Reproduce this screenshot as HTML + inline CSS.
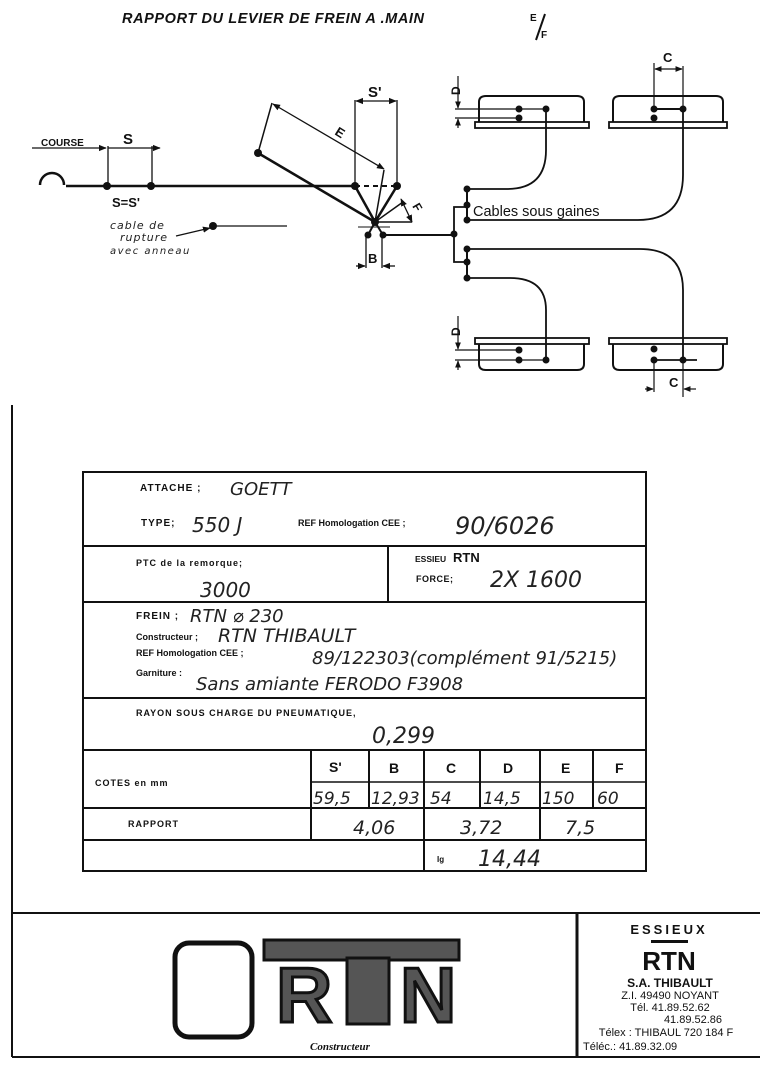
<!DOCTYPE html>
<html><head><meta charset="utf-8"><style>
html,body{margin:0;padding:0;background:#fff;}
svg{display:block}
.b{font-family:"Liberation Sans",sans-serif;font-weight:bold;fill:#111}
.h{font-family:"DejaVu Sans","Liberation Sans",sans-serif;font-style:italic;font-weight:200;fill:#222}
.n{font-family:"Liberation Sans",sans-serif;fill:#111}
</style></head><body>
<svg width="760" height="1080" viewBox="0 0 760 1080" xmlns="http://www.w3.org/2000/svg">
<defs>
<marker id="a" viewBox="0 0 10 10" refX="9" refY="5" markerWidth="6" markerHeight="6" orient="auto-start-reverse"><path d="M0,1 L10,5 L0,9 z" fill="#111"/></marker>
</defs>
<text x="122" y="23" class="b" font-size="14.5" letter-spacing="0.6" font-style="italic">RAPPORT DU LEVIER DE FREIN A .MAIN</text>
<text x="530" y="21" class="b" font-size="10">E</text>
<line x1="545" y1="14" x2="536" y2="40" stroke="#111" stroke-width="2"/>
<text x="541" y="38" class="b" font-size="10">F</text>

<g stroke="#111" fill="none" stroke-width="2">
<path d="M40,185 A12,12 0 0 1 64,185" stroke-width="2.5"/>
<line x1="66" y1="186" x2="355" y2="186" stroke-width="2.5"/>
<line x1="355" y1="186" x2="397" y2="186" stroke-dasharray="5,4"/>
<line x1="32" y1="148" x2="106" y2="148" stroke-width="1.3" marker-end="url(#a)"/>
<line x1="108" y1="148" x2="160" y2="148" stroke-width="1.3" marker-end="url(#a)"/>
<line x1="108" y1="146" x2="108" y2="186" stroke-width="1.3"/>
<line x1="152" y1="146" x2="152" y2="186" stroke-width="1.3"/>
<line x1="258" y1="153" x2="375" y2="222" stroke-width="2.5"/>
<line x1="258" y1="153" x2="272" y2="103" stroke-width="1.5"/>
<line x1="273" y1="104" x2="384" y2="169" stroke-width="1.3" marker-start="url(#a)" marker-end="url(#a)"/>
<line x1="384" y1="170" x2="375" y2="222" stroke-width="1.5"/>
<line x1="355" y1="186" x2="375" y2="222" stroke-width="2.5"/>
<line x1="397" y1="186" x2="375" y2="222" stroke-width="2.5"/>
<line x1="375" y1="222" x2="403" y2="202" stroke-width="1.5"/>
<line x1="375" y1="222" x2="412" y2="222" stroke-width="1.5"/>
<line x1="401" y1="199" x2="412" y2="222" stroke-width="1.3" marker-start="url(#a)" marker-end="url(#a)"/>
<line x1="355" y1="100" x2="355" y2="186" stroke-width="1.3"/>
<line x1="397" y1="100" x2="397" y2="186" stroke-width="1.3"/>
<line x1="356" y1="101" x2="396" y2="101" stroke-width="1.3" marker-start="url(#a)" marker-end="url(#a)"/>
<line x1="375" y1="222" x2="368" y2="235" stroke-width="2"/>
<line x1="375" y1="222" x2="383" y2="235" stroke-width="2"/>
<line x1="358" y1="227" x2="390" y2="227" stroke-width="1"/>
<line x1="366" y1="235" x2="366" y2="268" stroke-width="1.3"/>
<line x1="382" y1="235" x2="382" y2="268" stroke-width="1.3"/>
<line x1="356" y1="266" x2="365" y2="266" stroke-width="1.3" marker-end="url(#a)"/>
<line x1="395" y1="266" x2="383" y2="266" stroke-width="1.3" marker-end="url(#a)"/>
<line x1="383" y1="235" x2="456" y2="235" stroke-width="2"/>
<line x1="213" y1="226" x2="287" y2="226" stroke-width="1.3"/>
<line x1="176" y1="236" x2="210" y2="228" stroke-width="1.3" marker-end="url(#a)"/>
<path d="M467,207 L454,207 L454,262 L467,262" stroke-width="1.8"/>
<line x1="467" y1="189" x2="467" y2="220" stroke-width="2"/>
<line x1="467" y1="249" x2="467" y2="278" stroke-width="2"/>
<path d="M546,109 L546,150 Q546,189 507,189 L467,189" stroke-width="1.8"/>
<path d="M683,109 L683,175 Q683,220 638,220 L467,220" stroke-width="1.8"/>
<path d="M683,360 L683,290 Q683,249 640,249 L467,249" stroke-width="1.8"/>
<path d="M546,360 L546,310 Q546,278 510,278 L467,278" stroke-width="1.8"/>
<path d="M479,122 L479,102 Q479,96 486,96 L577,96 Q584,96 584,102 L584,122" stroke-width="2"/>
<rect x="475" y="122" width="114" height="6" stroke-width="1.8"/>
<path d="M613,122 L613,102 Q613,96 620,96 L716,96 Q723,96 723,102 L723,122" stroke-width="2"/>
<rect x="609" y="122" width="118" height="6" stroke-width="1.8"/>
<rect x="475" y="338" width="114" height="6" stroke-width="1.8"/>
<path d="M479,344 L479,364 Q479,370 486,370 L577,370 Q584,370 584,364 L584,344" stroke-width="2"/>
<rect x="609" y="338" width="118" height="6" stroke-width="1.8"/>
<path d="M613,344 L613,364 Q613,370 620,370 L716,370 Q723,370 723,364 L723,344" stroke-width="2"/>
<line x1="455" y1="109" x2="546" y2="109" stroke-width="1.3"/>
<line x1="455" y1="118" x2="522" y2="118" stroke-width="1.3"/>
<line x1="654" y1="109" x2="683" y2="109" stroke-width="2"/>
<line x1="455" y1="350" x2="519" y2="350" stroke-width="1.3"/>
<line x1="455" y1="360" x2="546" y2="360" stroke-width="1.3"/>
<line x1="654" y1="360" x2="697" y2="360" stroke-width="1.8"/>
<line x1="458" y1="76" x2="458" y2="108" stroke-width="1.2" marker-end="url(#a)"/>
<line x1="458" y1="128" x2="458" y2="119" stroke-width="1.2" marker-end="url(#a)"/>
<line x1="458" y1="316" x2="458" y2="349" stroke-width="1.2" marker-end="url(#a)"/>
<line x1="458" y1="370" x2="458" y2="361" stroke-width="1.2" marker-end="url(#a)"/>
<line x1="654" y1="63" x2="654" y2="109" stroke-width="1.2"/>
<line x1="683" y1="66" x2="683" y2="109" stroke-width="1.2"/>
<line x1="655" y1="69" x2="682" y2="69" stroke-width="1.2" marker-start="url(#a)" marker-end="url(#a)"/>
<line x1="654" y1="360" x2="654" y2="392" stroke-width="1.2"/>
<line x1="683" y1="360" x2="683" y2="397" stroke-width="1.2"/>
<line x1="645" y1="389" x2="653" y2="389" stroke-width="1.2" marker-end="url(#a)"/>
<line x1="696" y1="389" x2="684" y2="389" stroke-width="1.2" marker-end="url(#a)"/>
</g>
<g fill="#111">
<circle cx="107" cy="186" r="4"/><circle cx="151" cy="186" r="4"/>
<circle cx="355" cy="186" r="4"/><circle cx="397" cy="186" r="4"/>
<circle cx="258" cy="153" r="4"/><circle cx="375" cy="222" r="4"/>
<circle cx="368" cy="235" r="3.5"/><circle cx="383" cy="235" r="3.5"/>
<circle cx="213" cy="226" r="4"/><circle cx="454" cy="234" r="3.5"/>
<circle cx="467" cy="189" r="3.5"/><circle cx="467" cy="205" r="3.5"/><circle cx="467" cy="220" r="3.5"/>
<circle cx="467" cy="249" r="3.5"/><circle cx="467" cy="262" r="3.5"/><circle cx="467" cy="278" r="3.5"/>
<circle cx="519" cy="109" r="3.5"/><circle cx="546" cy="109" r="3.5"/><circle cx="519" cy="118" r="3.5"/>
<circle cx="654" cy="109" r="3.5"/><circle cx="683" cy="109" r="3.5"/><circle cx="654" cy="118" r="3.5"/>
<circle cx="519" cy="350" r="3.5"/><circle cx="519" cy="360" r="3.5"/><circle cx="546" cy="360" r="3.5"/>
<circle cx="654" cy="349" r="3.5"/><circle cx="654" cy="360" r="3.5"/><circle cx="683" cy="360" r="3.5"/>
</g>
<text x="41" y="146" class="b" font-size="10">COURSE</text>
<text x="123" y="144" class="b" font-size="15">S</text>
<text x="112" y="207" class="b" font-size="13">S=S'</text>
<text x="368" y="97" class="b" font-size="15">S'</text>
<text x="334" y="134" class="b" font-size="13" transform="rotate(32 334 134)">E</text>
<text x="412" y="206" class="b" font-size="12" transform="rotate(60 412 206)">F</text>
<text x="368" y="263" class="b" font-size="13">B</text>
<text x="110" y="229" class="h" font-size="11" letter-spacing="1">cable de</text>
<text x="120" y="241" class="h" font-size="11" letter-spacing="1">rupture</text>
<text x="110" y="254" class="h" font-size="10" letter-spacing="1.5">avec anneau</text>
<text x="473" y="216" class="n" font-size="14.5">Cables sous gaines</text>
<text x="460" y="95" class="b" font-size="12" transform="rotate(-90 460 95)">D</text>
<text x="460" y="336" class="b" font-size="12" transform="rotate(-90 460 336)">D</text>
<text x="663" y="62" class="b" font-size="13">C</text>
<text x="669" y="387" class="b" font-size="13">C</text>

<g stroke="#111" fill="none" stroke-width="2">
<line x1="12" y1="405" x2="12" y2="1057"/>
<rect x="83" y="472" width="563" height="399"/>
<line x1="83" y1="546" x2="646" y2="546"/>
<line x1="388" y1="546" x2="388" y2="602"/>
<line x1="83" y1="602" x2="646" y2="602"/>
<line x1="83" y1="698" x2="646" y2="698"/>
<line x1="83" y1="750" x2="646" y2="750"/>
<line x1="311" y1="782" x2="646" y2="782" stroke-width="1.5"/>
<line x1="83" y1="808" x2="646" y2="808"/>
<line x1="83" y1="840" x2="646" y2="840"/>
<line x1="311" y1="750" x2="311" y2="840"/>
<line x1="369" y1="750" x2="369" y2="808"/>
<line x1="424" y1="750" x2="424" y2="871"/>
<line x1="480" y1="750" x2="480" y2="808"/>
<line x1="540" y1="750" x2="540" y2="840"/>
<line x1="593" y1="750" x2="593" y2="808"/>
</g>
<text x="140" y="491" class="b" font-size="10" letter-spacing="1">ATTACHE ;</text>
<text x="230" y="495" class="h" font-size="18">GOETT</text>
<text x="141" y="526" class="b" font-size="10" letter-spacing="1">TYPE;</text>
<text x="192" y="532" class="h" font-size="20">550 J</text>
<text x="298" y="526" class="b" font-size="9">REF Homologation CEE ;</text>
<text x="455" y="534" class="h" font-size="24">90/6026</text>
<text x="136" y="566" class="b" font-size="9" letter-spacing="1">PTC de la remorque;</text>
<text x="200" y="597" class="h" font-size="20">3000</text>
<text x="415" y="562" class="b" font-size="8.5">ESSIEU</text>
<text x="453" y="562" class="b" font-size="13">RTN</text>
<text x="416" y="582" class="b" font-size="9" letter-spacing="0.5">FORCE;</text>
<text x="490" y="587" class="h" font-size="22">2X 1600</text>
<text x="136" y="619" class="b" font-size="10" letter-spacing="1">FREIN ;</text>
<text x="190" y="622" class="h" font-size="18">RTN ⌀ 230</text>
<text x="136" y="640" class="b" font-size="9">Constructeur ;</text>
<text x="218" y="642" class="h" font-size="19">RTN THIBAULT</text>
<text x="136" y="656" class="b" font-size="9">REF Homologation CEE ;</text>
<text x="312" y="664" class="h" font-size="18">89/122303(complément 91/5215)</text>
<text x="136" y="676" class="b" font-size="9">Garniture :</text>
<text x="196" y="690" class="h" font-size="18">Sans amiante FERODO F3908</text>
<text x="136" y="716" class="b" font-size="9" letter-spacing="1">RAYON  SOUS CHARGE  DU  PNEUMATIQUE,</text>
<text x="372" y="743" class="h" font-size="22">0,299</text>
<text x="95" y="786" class="b" font-size="9" letter-spacing="1">COTES  en mm</text>
<text x="329" y="772" class="b" font-size="14">S'</text>
<text x="389" y="773" class="b" font-size="14">B</text>
<text x="446" y="773" class="b" font-size="14">C</text>
<text x="503" y="773" class="b" font-size="14">D</text>
<text x="561" y="773" class="b" font-size="14">E</text>
<text x="615" y="773" class="b" font-size="14">F</text>
<text x="313" y="804" class="h" font-size="17">59,5</text>
<text x="371" y="804" class="h" font-size="17">12,93</text>
<text x="430" y="804" class="h" font-size="17">54</text>
<text x="483" y="804" class="h" font-size="17">14,5</text>
<text x="542" y="804" class="h" font-size="17">150</text>
<text x="597" y="804" class="h" font-size="17">60</text>
<text x="128" y="827" class="b" font-size="9" letter-spacing="1">RAPPORT</text>
<text x="353" y="834" class="h" font-size="19">4,06</text>
<text x="460" y="834" class="h" font-size="19">3,72</text>
<text x="565" y="834" class="h" font-size="19">7,5</text>
<text x="437" y="862" class="b" font-size="8">Ig</text>
<text x="478" y="866" class="h" font-size="22">14,44</text>

<g stroke="#111" stroke-width="2" fill="none">
<line x1="12" y1="913" x2="760" y2="913"/>
<line x1="12" y1="1057" x2="760" y2="1057"/>
<line x1="577" y1="913" x2="577" y2="1057" stroke-width="3"/>
</g>
<rect x="175" y="943" width="77" height="94" rx="14" fill="none" stroke="#111" stroke-width="5"/>
<rect x="264" y="940" width="195" height="20" fill="#555" stroke="#111" stroke-width="3"/>
<rect x="347" y="958" width="42" height="66" fill="#555" stroke="#111" stroke-width="3"/>
<text x="276" y="1022" font-family="Liberation Sans,sans-serif" font-weight="bold" font-size="78" fill="#555" stroke="#111" stroke-width="3">R</text>
<text x="400" y="1022" font-family="Liberation Sans,sans-serif" font-weight="bold" font-size="78" fill="#555" stroke="#111" stroke-width="3">N</text>
<text x="310" y="1050" font-family="Liberation Serif,serif" font-style="italic" font-weight="bold" font-size="11" fill="#111">Constructeur</text>
<text x="669" y="934" text-anchor="middle" class="b" font-size="13" letter-spacing="3">ESSIEUX</text>
<rect x="651" y="940" width="37" height="3" fill="#111"/>
<text x="669" y="970" text-anchor="middle" class="b" font-size="26">RTN</text>
<text x="670" y="987" text-anchor="middle" class="b" font-size="12">S.A. THIBAULT</text>
<text x="670" y="999" text-anchor="middle" class="n" font-size="11">Z.I. 49490 NOYANT</text>
<text x="670" y="1011" text-anchor="middle" class="n" font-size="11">Tél. 41.89.52.62</text>
<text x="693" y="1023" text-anchor="middle" class="n" font-size="11">41.89.52.86</text>
<text x="666" y="1036" text-anchor="middle" class="n" font-size="11">Télex : THIBAUL 720 184 F</text>
<text x="583" y="1050" class="n" font-size="11">Téléc.: 41.89.32.09</text>
</svg>
</body></html>
